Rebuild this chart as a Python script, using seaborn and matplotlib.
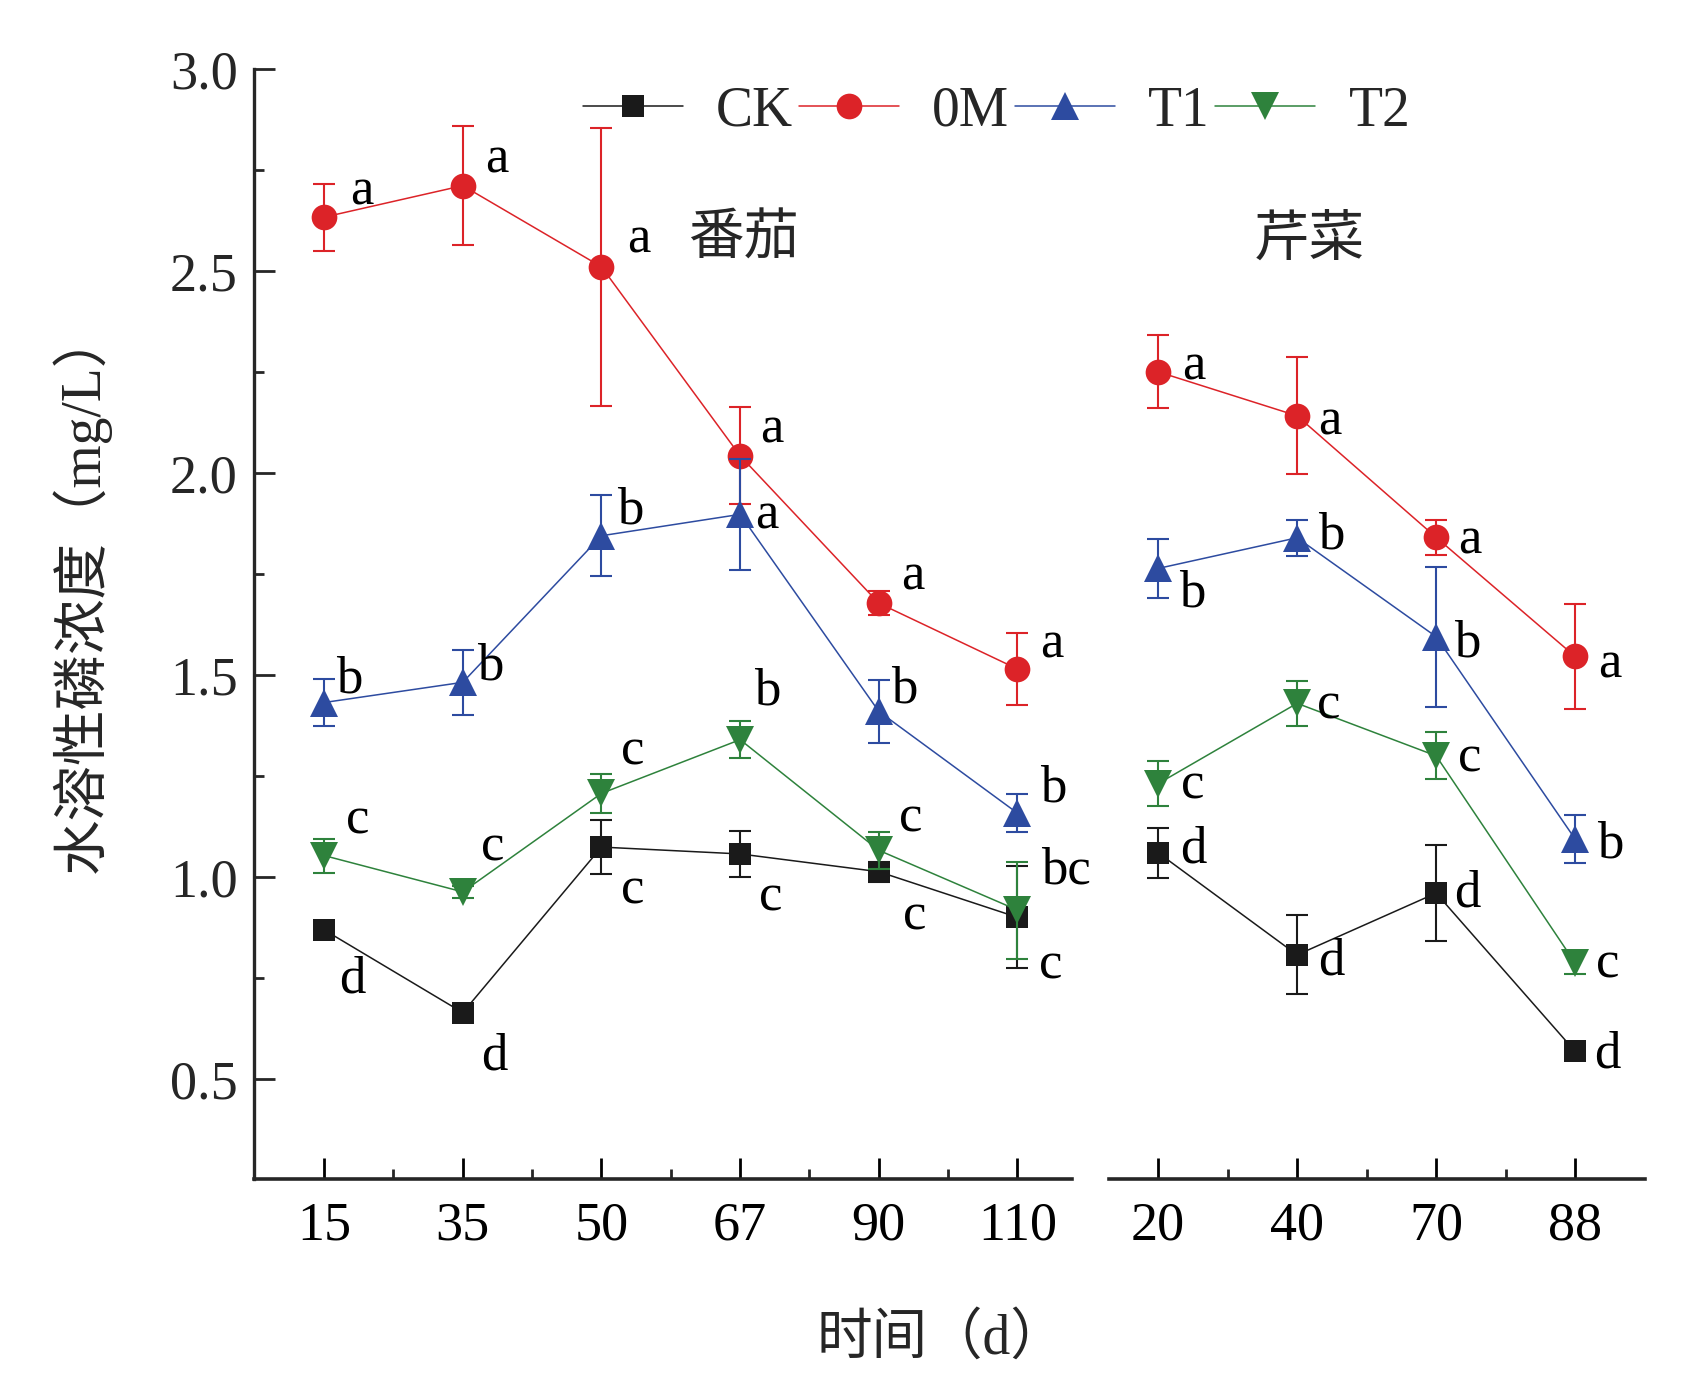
import matplotlib
matplotlib.use('Agg')
import matplotlib.pyplot as plt
import seaborn as sns
import pandas as pd
from matplotlib.ticker import FixedLocator

# ---- data ----
tomato_days = ['15', '35', '50', '67', '90', '110']
celery_days = ['20', '40', '70', '88']
treatments = ['CK', '0M', 'T1', 'T2']

tomato_ck = [0.869, 0.664, 1.074, 1.057, 1.013, 0.900]
tomato_ck_err = [0.01, 0.01, 0.066, 0.057, 0.025, 0.126]
tomato_0m = [2.634, 2.712, 2.511, 2.043, 1.678, 1.515]
tomato_0m_err = [0.083, 0.148, 0.345, 0.12, 0.03, 0.09]
tomato_t1 = [1.432, 1.482, 1.845, 1.898, 1.410, 1.158]
tomato_t1_err = [0.058, 0.08, 0.10, 0.138, 0.078, 0.047]
tomato_t2 = [1.053, 0.963, 1.207, 1.340, 1.066, 0.918]
tomato_t2_err = [0.042, 0.015, 0.048, 0.045, 0.046, 0.12]

celery_ck = [1.060, 0.807, 0.960, 0.568]
celery_ck_err = [0.062, 0.098, 0.118, 0.01]
celery_0m = [2.251, 2.142, 1.841, 1.546]
celery_0m_err = [0.09, 0.145, 0.043, 0.13]
celery_t1 = [1.764, 1.840, 1.595, 1.094]
celery_t1_err = [0.074, 0.044, 0.173, 0.06]
celery_t2 = [1.231, 1.430, 1.300, 0.787]
celery_t2_err = [0.055, 0.056, 0.058, 0.027]

tomato_ck_sig = ['d', 'd', 'c', 'c', 'c', 'c']
tomato_0m_sig = ['a', 'a', 'a', 'a', 'a', 'a']
tomato_t1_sig = ['b', 'b', 'b', 'a', 'b', 'b']
tomato_t2_sig = ['c', 'c', 'c', 'b', 'c', 'bc']
celery_ck_sig = ['d', 'd', 'd', 'd']
celery_0m_sig = ['a', 'a', 'a', 'a']
celery_t1_sig = ['b', 'b', 'b', 'b']
celery_t2_sig = ['c', 'c', 'c', 'c']

# letter offsets from each point (pixels, x right / y down)
tomato_off = {
    'CK': [(28, 50), (32, 44), (31, 43), (31, 44), (36, 45), (33, 48)],
    '0M': [(38, -26), (34, -26), (37, -27), (32, -26), (34, -27), (34, -25)],
    'T1': [(25, -23), (27, -16), (29, -25), (27, 1), (25, -22), (36, -25)],
    'T2': [(34, -35), (30, -44), (31, -42), (27, -48), (32, -32), (48, -40)],
}
celery_off = {
    'CK': [(35, -3), (34, 7), (31, 0), (32, 3)],
    '0M': [(36, -5), (33, 6), (34, 3), (35, 8)],
    'T1': [(34, 25), (34, -2), (31, 7), (35, 5)],
    'T2': [(35, 2), (32, 2), (34, 3), (33, 2)],
}

colors = {'CK': '#1A1A1A', '0M': '#DC2328', 'T1': '#2D4BA0', 'T2': '#2E823C'}
markers = {'CK': 's', '0M': 'o', 'T1': '^', 'T2': 'v'}
msizes = {'CK': 16.5, '0M': 18.5, 'T1': 20, 'T2': 20}


def build(days, vals, errs, sigs, panel):
    rows = []
    for t in treatments:
        for i, d in enumerate(days):
            rows.append({'panel': panel, 'day': d, 'pos': i, 'treatment': t,
                         'value': vals[t][i], 'err': errs[t][i], 'sig': sigs[t][i]})
    return pd.DataFrame(rows)


tomato = build(tomato_days,
               {'CK': tomato_ck, '0M': tomato_0m, 'T1': tomato_t1, 'T2': tomato_t2},
               {'CK': tomato_ck_err, '0M': tomato_0m_err, 'T1': tomato_t1_err, 'T2': tomato_t2_err},
               {'CK': tomato_ck_sig, '0M': tomato_0m_sig, 'T1': tomato_t1_sig, 'T2': tomato_t2_sig},
               '番茄')
celery = build(celery_days,
               {'CK': celery_ck, '0M': celery_0m, 'T1': celery_t1, 'T2': celery_t2},
               {'CK': celery_ck_err, '0M': celery_0m_err, 'T1': celery_t1_err, 'T2': celery_t2_err},
               {'CK': celery_ck_sig, '0M': celery_0m_sig, 'T1': celery_t1_sig, 'T2': celery_t2_sig},
               '芹菜')

sns.set_theme(style='ticks')
plt.rcParams['font.family'] = ['Liberation Serif', 'Noto Sans CJK SC']
plt.rcParams['axes.unicode_minus'] = False

fig = plt.figure(figsize=(16.99, 13.9), dpi=100)
ax1 = fig.add_axes([0.1497, 0.1518, 0.4810, 0.7983])
ax2 = fig.add_axes([0.6530, 0.1518, 0.3150, 0.7983])


def draw(ax, df, offs):
    for t in treatments:
        sub = df[df['treatment'] == t]
        sns.lineplot(data=sub, x='pos', y='value', ax=ax, color=colors[t],
                     marker=markers[t], markersize=msizes[t], markeredgewidth=0,
                     linewidth=1.1, label=t, errorbar=None, sort=False, zorder=3)
        ax.errorbar(sub['pos'], sub['value'], yerr=sub['err'], fmt='none',
                    ecolor=colors[t], elinewidth=1.5, capsize=8, capthick=1.5, zorder=3)
        for (p, v, s), (dx, dy) in zip(sub[['pos', 'value', 'sig']].values, offs[t]):
            ax.annotate(s, xy=(p, v), xytext=(dx, -dy), textcoords='offset pixels',
                        ha='center', va='center', fontsize=38, color='black', zorder=5)
    if ax.get_legend() is not None:
        ax.get_legend().remove()


draw(ax1, tomato, tomato_off)
draw(ax2, celery, celery_off)

for ax, days, xl in [(ax1, tomato_days, (-0.503, 5.39)), (ax2, celery_days, (-0.35, 3.50))]:
    ax.set_xlim(*xl)
    ax.set_ylim(0.252, 3.0)
    ax.set_xticks(range(len(days)))
    ax.set_xticklabels(days)
    ax.xaxis.set_minor_locator(FixedLocator([i + 0.5 for i in range(len(days) - 1)]))
    ax.set_xlabel('')
    ax.set_ylabel('')
    for sp in ['top', 'right']:
        ax.spines[sp].set_visible(False)
    ax.spines['bottom'].set_linewidth(2.6)
    ax.spines['left'].set_linewidth(2.4)
    ax.tick_params(axis='x', which='major', direction='in', length=15, width=2.0,
                   labelsize=39, pad=16, colors='black')
    ax.tick_params(axis='x', which='minor', direction='in', length=7.5, width=2.0)
    ax.set_facecolor('white')

ax1.set_yticks([0.5, 1.0, 1.5, 2.0, 2.5, 3.0])
ax1.set_yticklabels(['0.5', '1.0', '1.5', '2.0', '2.5', '3.0'])
ax1.yaxis.set_minor_locator(FixedLocator([0.75, 1.25, 1.75, 2.25, 2.75]))
ax1.tick_params(axis='y', which='major', direction='in', length=15, width=2.0,
                labelsize=39, pad=12)
ax1.tick_params(axis='y', which='minor', direction='in', length=7.5, width=2.0)

ax2.spines['left'].set_visible(False)
ax2.set_yticks([])
ax2.tick_params(axis='y', which='both', left=False, labelleft=False)

ax1.text(3.026, 2.58, '番茄', fontsize=40, ha='center', va='center',
         family=['Noto Sans CJK SC'])
ax2.text(1.09, 2.577, '芹菜', fontsize=40, ha='center', va='center',
         family=['Noto Sans CJK SC'])

handles, labels = ax1.get_legend_handles_labels()
fig.legend(handles[:4], labels[:4], loc='center', bbox_to_anchor=(0.5865, 0.9197),
           ncol=4, frameon=False, fontsize=40, handlelength=1.8, handletextpad=0.6,
           columnspacing=0.1, borderpad=0, borderaxespad=0)

fig.text(0.554, 0.0365, '时间（d）', fontsize=40, ha='center', va='center',
         family=['Liberation Serif', 'Noto Sans CJK SC'])
fig.text(0.0479, 0.5752, '水溶性磷浓度（mg/L）', fontsize=40, rotation=90,
         ha='center', va='center', family=['Liberation Serif', 'Noto Sans CJK SC'])

fig.savefig('out.png', dpi=100, facecolor='white')
